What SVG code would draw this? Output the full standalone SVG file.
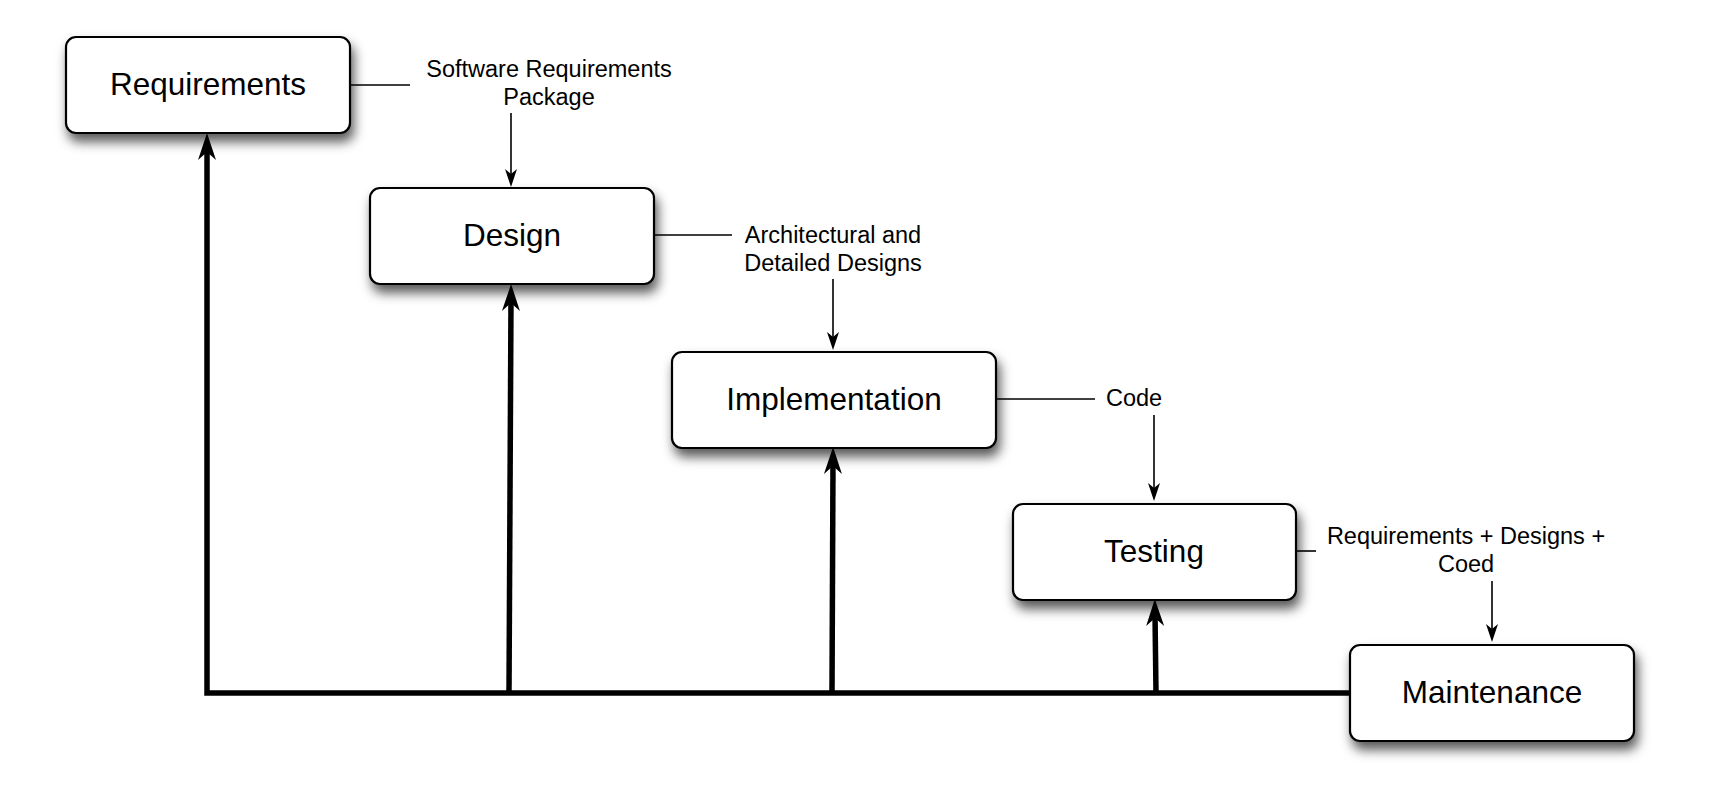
<svg xmlns="http://www.w3.org/2000/svg" width="1724" height="785" viewBox="0 0 1724 785">
<style>
.box{fill:#fff;stroke:#000;stroke-width:2.2;filter:url(#sh)}
.nt{font-family:"Liberation Sans",Arial,sans-serif;font-size:31.5px;text-anchor:middle;fill:#000}
.lb{font-family:"Liberation Sans",Arial,sans-serif;font-size:23.5px;text-anchor:middle;fill:#000}
.thin{fill:none;stroke:#000;stroke-width:1.6}
.thick{fill:none;stroke:#000;stroke-width:5.5}
</style>
<defs>
<filter id="sh" x="-20%" y="-20%" width="150%" height="170%">
<feDropShadow dx="3" dy="8" stdDeviation="6" flood-color="#000" flood-opacity="0.65"/>
</filter>
<marker id="ahT" viewBox="-14 -11 32 22" refX="0" refY="0" markerWidth="32" markerHeight="22" markerUnits="userSpaceOnUse" orient="auto">
<path d="M15,0 L-12,-9 L-4,0 L-12,9 Z" fill="#000"/>
</marker>
<marker id="ahS" viewBox="-12 -8 24 16" refX="0" refY="0" markerWidth="24" markerHeight="16" markerUnits="userSpaceOnUse" orient="auto">
<path d="M8,0 L-10,-6 L-5,0 L-10,6 Z" fill="#000"/>
</marker>
</defs>
<g id="connectors">
<path class="thick" d="M1350,693 L207,693 L207,148" marker-end="url(#ahT)"/>
<path class="thick" d="M509,693 L511,299" marker-end="url(#ahT)"/>
<path class="thick" d="M832,693 L833,462" marker-end="url(#ahT)"/>
<path class="thick" d="M1156,693 L1155,614" marker-end="url(#ahT)"/>
<path class="thin" d="M350,85 L410,85"/>
<path class="thin" d="M511,113 L511,179" marker-end="url(#ahS)"/>
<path class="thin" d="M654,235 L732,235"/>
<path class="thin" d="M833,279 L833,342" marker-end="url(#ahS)"/>
<path class="thin" d="M996,399 L1095,399"/>
<path class="thin" d="M1154,415 L1154,493" marker-end="url(#ahS)"/>
<path class="thin" d="M1296,551 L1316,551"/>
<path class="thin" d="M1492,581 L1492,634" marker-end="url(#ahS)"/>
</g>
<g id="requirements">
<rect class="box" x="66" y="37" width="284" height="96" rx="10"/>
<text class="nt" x="208" y="95">Requirements</text>
</g>
<g id="design">
<rect class="box" x="370" y="188" width="284" height="96" rx="10"/>
<text class="nt" x="512" y="246">Design</text>
</g>
<g id="implementation">
<rect class="box" x="672" y="352" width="324" height="96" rx="10"/>
<text class="nt" x="834" y="410">Implementation</text>
</g>
<g id="testing">
<rect class="box" x="1013" y="504" width="283" height="96" rx="10"/>
<text class="nt" x="1154" y="562">Testing</text>
</g>
<g id="maintenance">
<rect class="box" x="1350" y="645" width="284" height="96" rx="10"/>
<text class="nt" x="1492" y="703">Maintenance</text>
</g>
<g id="labels">
<text class="lb" x="549" y="77">Software Requirements</text>
<text class="lb" x="549" y="105">Package</text>
<text class="lb" x="833" y="243">Architectural and</text>
<text class="lb" x="833" y="271">Detailed Designs</text>
<text class="lb" x="1134" y="406">Code</text>
<text class="lb" x="1466" y="544">Requirements + Designs +</text>
<text class="lb" x="1466" y="572">Coed</text>
</g>
</svg>
